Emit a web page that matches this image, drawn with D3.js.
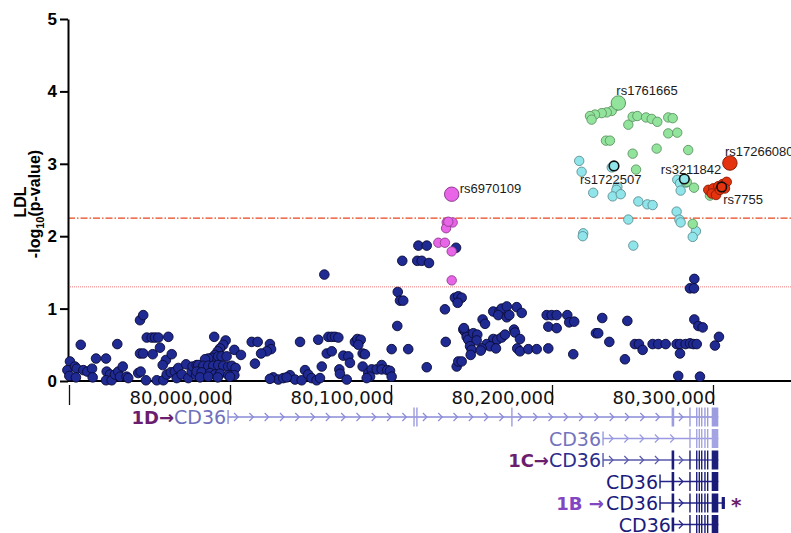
<!DOCTYPE html>
<html><head><meta charset="utf-8">
<script src="https://cdn.jsdelivr.net/npm/d3@7"></script>
<style>body{margin:0;background:#fff}svg{display:block}</style>
</head><body>
<svg id="c" width="791" height="533"></svg>
<script>
// ---------- DATA (position in kb on chr7, value = -log10 p) ----------
const xTicks = [79900, 80000, 80100, 80200, 80300];
const xTickLabels = ["", "80,000,000", "80,100,000", "80,200,000", "80,300,000"];
const yTicks = [0, 1, 2, 3, 4, 5];
const thresholds = [2.25, 1.3];

const navySnps = [
[79900.6,0.27],[79899.0,0.15],[79900.2,0.07],[79903.7,0.20],[79904.8,0.17],[79904.3,0.05],[79907.3,0.50],
[79908.9,0.15],[79911.4,0.13],[79914.3,0.17],[79914.7,0.05],[79916.8,0.31],[79923.0,0.31],[79923.4,0.13],
[79925.5,0.09],[79923.0,0.01],[79926.5,0.01],[79930.0,0.51],[79928.6,0.09],[79930.6,0.13],[79933.4,0.20],
[79931.7,0.06],[79935.8,0.06],[79936.8,0.04],[79944.1,0.84],[79946.1,0.91],[79943.0,0.11],[79944.5,0.13],
[79944.1,0.38],[79946.1,0.38],[79948.3,0.60],[79951.4,0.60],[79953.4,0.60],[79955.5,0.60],[79961.7,0.61],
[79956.5,0.46],[79952.0,0.37],[79947.8,0.01],[79954.5,0.01],[79958.6,0.01],[79960.2,0.29],[79958.2,0.22],
[79963.8,0.37],[79960.7,0.09],[79963.2,0.12],[79965.8,0.13],[79967.9,0.18],[79966.9,0.04],[79970.0,0.09],
[79972.7,0.23],[79974.1,0.04],[79976.2,0.13],[79976.8,0.20],[79979.3,0.22],[79978.9,0.08],
[79990.2,0.61],[79997.3,0.56],[79995.8,0.50],[79993.8,0.45],[79992.4,0.41],[79990.7,0.36],[79988.6,0.32],
[79986.5,0.31],[79984.5,0.30],[79992.7,0.34],[79994.8,0.34],[79997.9,0.34],[80002.7,0.43],[80006.8,0.36],
[79980.3,0.22],[79983.4,0.21],[79986.5,0.21],[79989.6,0.21],[79992.7,0.22],[79995.8,0.21],[79998.9,0.20],
[80001.1,0.21],[80003.5,0.18],[79979.3,0.13],[79982.4,0.12],[79987.6,0.11],[79990.7,0.09],[79993.8,0.10],
[79998.9,0.08],[80002.7,0.08],[79981.4,0.05],[79986.5,0.06],[79992.4,0.05],[80000.0,0.06],[80013.5,0.54],
[80017.2,0.54],[80024.8,0.51],[80025.5,0.44],[80022.8,0.41],[80019.3,0.38],[80015.5,0.24],[80026.9,0.05],
[80030.0,0.02],[80033.1,0.04],[80037.3,0.08],[80040.4,0.02],[80044.5,0.01],[80046.6,0.15],[80048.6,0.09],
[80050.7,0.04],[80053.8,0.01],[80055.9,0.04],[80043.5,0.54],[80054.8,0.57],[80057.0,0.20],[80060.1,0.38],
[80061.1,0.61],[80063.2,0.61],[80035.2,0.05],[80024.8,0.03],
[80065.2,0.61],[80067.3,0.60],[80063.2,0.41],[80070.4,0.35],[80073.5,0.34],[80074.5,0.25],[80067.9,0.16],
[80068.3,0.10],[80072.5,0.02],[80077.6,0.54],[80079.1,0.58],[80081.2,0.57],[80079.7,0.50],[80082.4,0.38],
[80083.8,0.37],[80082.4,0.20],[80085.9,0.11],[80088.0,0.16],[80091.1,0.16],[80094.2,0.22],[80094.2,0.16],
[80097.7,0.15],[80099.4,0.14],[80100.4,0.06],[80087.0,0.06],[80084.9,0.04],[80100.4,0.44],[80103.9,0.76],
[80110.7,0.44],[80122.2,0.19],[80104.2,1.23],[80105.6,1.11],[80107.6,1.11],[80107.0,1.66],[80116.3,1.66],
[80119.1,1.66],[80123.6,1.63],[80117.0,1.87],[80122.2,1.87],[80140.4,1.84],[80133.5,0.99],[80139.7,1.15],
[80141.8,1.17],[80143.9,1.15],[80141.4,1.08],[80134.0,0.54],[80144.9,0.71],[80146.0,0.68],[80147.0,0.61],
[80148.0,0.57],[80140.8,0.20],[80141.8,0.27],[80058.6,1.47],
[80143.9,0.27],[80163.5,0.96],[80167.3,0.96],[80168.7,1.00],[80171.9,1.03],[80178.1,1.02],[80181.2,0.94],
[80166.6,0.91],[80171.9,0.88],[80173.5,0.91],[80156.9,0.85],[80158.4,0.79],[80145.3,0.73],[80151.1,0.66],
[80153.6,0.64],[80153.2,0.56],[80163.5,0.58],[80166.0,0.57],[80168.7,0.60],[80176.4,0.71],[80177.0,0.67],
[80180.1,0.58],[80159.4,0.51],[80161.5,0.48],[80165.2,0.45],[80156.3,0.45],[80149.1,0.48],[80150.1,0.43],
[80149.5,0.36],[80155.7,0.42],[80178.4,0.45],[80180.1,0.41],[80185.3,0.44],[80190.5,0.44],[80197.7,0.45],
[80213.2,0.37],[80196.7,0.91],[80199.8,0.91],[80202.9,0.91],[80209.5,0.91],[80197.7,0.75],[80202.9,0.73],
[80210.7,0.81],[80213.8,0.82],[80227.3,0.66],[80228.7,0.66],[80170.8,0.64],
[80231.2,0.87],[80235.6,0.54],[80246.8,0.83],[80245.3,0.30],[80251.5,0.51],[80254.0,0.51],[80256.3,0.43],
[80262.5,0.51],[80266.0,0.51],[80270.6,0.51],[80277.4,0.51],[80279.5,0.51],[80279.5,0.38],[80283.0,0.51],
[80285.7,0.52],[80287.8,0.51],[80289.9,0.51],[80288.4,1.41],[80285.7,1.28],[80288.2,1.28],[80288.4,0.85],
[80290.9,0.76],[80293.6,0.74],[80278.4,0.07],[80291.9,0.06],[80301.2,0.49],[80303.7,0.61]
];

const cyanSnps = [
[80216.9,3.04],[80218.4,2.89],[80237.1,2.95],[80240.6,2.68],[80240.0,2.64],[80237.7,2.55],[80242.7,2.58],
[80225.6,2.60],[80253.6,2.48],[80259.2,2.44],[80262.5,2.43],[80277.8,2.78],[80279.5,2.73],[80279.9,2.63],
[80283.2,2.74],[80277.4,2.34],[80279.1,2.23],[80279.9,2.19],[80247.4,2.23],[80219.4,2.04],[80219.1,2.00],
[80250.5,1.87],[80289.4,2.07],[80287.4,1.99]
];

const greenSnps = [
[80239.7,3.80],[80237.1,3.73],[80234.0,3.71],[80230.9,3.70],[80226.7,3.68],[80223.6,3.66],[80224.6,3.61],
[80247.4,3.54],[80250.1,3.65],[80253.0,3.66],[80258.4,3.64],[80261.9,3.62],[80265.4,3.58],[80272.2,3.64],
[80275.0,3.63],[80272.2,3.42],[80277.8,3.43],[80233.5,3.32],[80236.0,3.32],[80265.0,3.21],[80284.6,3.19],
[80250.1,3.14],[80252.2,2.92],[80283.7,2.75],[80288.2,2.67],[80287.4,2.17],[80298.1,2.56]
];

const pinkSnps = [
[80134.6,2.19],[80138.3,2.19],[80134.2,2.11],[80135.6,2.20],[80129.4,1.91],[80133.5,1.91],[80137.7,1.79],
[80137.7,1.39]
];

const redSnps = [
[80297.1,2.64],[80300.2,2.66],[80303.3,2.69],[80306.0,2.72],[80308.5,2.75],[80299.2,2.59],
[80301.9,2.57],[80307.4,2.66],[80304.3,2.64],[80305.4,2.68]
];

const labelNames = ["rs6970109", "rs1761665", "rs17266080", "rs3211842", "rs1722507", "rs7755"];
const labelPos   = [80137.7, 80241.2, 80310.5, 80282.2, 80238.5, 80305.4];
const labelP     = [2.58, 3.84, 3.01, 2.79, 2.97, 2.68];
const labelGroup = ["pink", "green", "red", "cyan", "cyan", "red"];
const labelBig   = [true, true, true, false, false, false];

// gene track: CD36 transcripts (kb)
const txNames  = ["CD36", "CD36", "CD36", "CD36", "CD36", "CD36"];
const txPromoter = ["1D", "", "1C", "", "1B", ""];
const txStart  = [79998.8, 80231.7, 80231.7, 80267.1, 80267.1, 80275.1];
const txEnd    = [80303.3, 80303.3, 80303.3, 80303.3, 80307.4, 80303.3];
const sharedExons = [80285.7, 80289.9, 80291.5, 80293.0, 80295.0, 80296.7];
const txExtraExons = [
  [80114.3, 80116.1, 80175.1, 80275.1],
  [],
  [80275.1],
  [80275.1],
  [80275.1],
  []
];
const lastExon = [80299.2, 80303.3];
const extraBlock = [80305.4, 80307.4]; // 1B only

// ---------- DRAW ----------
const svg = d3.select("#c");
const W = 791;
const x = d3.scaleLinear().domain([79900, 80300]).range([69, 713]);
const y = d3.scaleLinear().domain([0, 5]).range([381, 19]);
const xEnd = x.invert(W);

// threshold lines
svg.append("line").attr("x1", 68).attr("x2", W).attr("y1", y(thresholds[0])).attr("y2", y(thresholds[0]))
  .attr("stroke", "#e8461e").attr("stroke-width", 1.2).attr("stroke-dasharray", "7,2,1.5,2");
svg.append("line").attr("x1", 68).attr("x2", W).attr("y1", y(thresholds[1])).attr("y2", y(thresholds[1]))
  .attr("stroke", "#f07a7a").attr("stroke-width", 1).attr("stroke-dasharray", "1,1");

// y axis
const gy = svg.append("g").attr("transform", "translate(68,0)")
  .call(d3.axisLeft(y).tickValues(yTicks).tickSize(8).tickSizeOuter(0).tickPadding(3).tickFormat(d3.format("d")));
gy.select(".domain").attr("stroke", "#000").attr("stroke-width", 2);
gy.selectAll(".tick line").attr("stroke", "#000").attr("stroke-width", 2);
gy.selectAll(".tick text").attr("font-family", "Liberation Sans, Arial, sans-serif")
  .attr("font-weight", "bold").attr("font-size", 17).attr("fill", "#000");

// y title
svg.append("text").attr("transform", "translate(25.5,202) rotate(-90)").attr("text-anchor", "middle")
  .attr("font-family", "Liberation Sans, Arial, sans-serif").attr("font-weight", "bold").attr("font-size", 16)
  .text("LDL");
const t2 = svg.append("text").attr("transform", "translate(40,204) rotate(-90)").attr("text-anchor", "middle")
  .attr("font-family", "Liberation Sans, Arial, sans-serif").attr("font-weight", "bold").attr("font-size", 16);
t2.append("tspan").text("-log");
t2.append("tspan").attr("font-size", 11).attr("dy", 4).text("10");
t2.append("tspan").attr("dy", -4).text("(p-value)");

// x axis baseline
const xFull = x.copy().domain([79900, xEnd]).range([69, W]);
const gxb = svg.append("g").attr("transform", "translate(0,381)")
  .call(d3.axisBottom(xFull).tickValues([]).tickSizeOuter(0));
gxb.select(".domain").attr("stroke", "#000").attr("stroke-width", 2.2).attr("d", `M68,0H${W}`);

// x ticks (below baseline)
const gx = svg.append("g").attr("transform", "translate(0,385)")
  .call(d3.axisBottom(x).tickValues(xTicks).tickSize(20).tickFormat((d, i) => xTickLabels[i]));
gx.select(".domain").remove();
gx.selectAll(".tick line").attr("stroke", "#111").attr("stroke-width", 1.3);
gx.selectAll(".tick text").attr("x", 2).attr("y", 19).attr("dy", 0).attr("text-anchor", "end")
  .attr("font-family", "DejaVu Sans, Verdana, sans-serif").attr("font-size", 18).attr("fill", "#111");

// points
const styles = {
  navy:  {fill: "#1f2a92", stroke: "#0b0b35"},
  cyan:  {fill: "#8fe5ea", stroke: "#5f8f93"},
  green: {fill: "#92e49c", stroke: "#5e9462"},
  pink:  {fill: "#e865e8", stroke: "#8e3c8e"},
  red:   {fill: "#e3330f", stroke: "#8a1c05"}
};
function drawGroup(data, key, r) {
  svg.append("g").selectAll("circle").data(data).join("circle")
    .attr("cx", d => x(d[0])).attr("cy", d => y(d[1])).attr("r", r)
    .attr("fill", styles[key].fill).attr("stroke", styles[key].stroke).attr("stroke-width", 0.9);
}
drawGroup(navySnps, "navy", 4.8);
drawGroup(cyanSnps, "cyan", 4.7);
drawGroup(greenSnps, "green", 4.7);
drawGroup(pinkSnps, "pink", 4.7);
drawGroup(redSnps, "red", 4.8);

// labelled SNPs
const labelOffsets = [[8, -1], [-2, -7.5], [-5, -7], [-23.5, -5.5], [-34, 18.5], [1.5, 17]];
labelNames.forEach((n, i) => {
  const st = styles[labelGroup[i]];
  svg.append("circle").attr("cx", x(labelPos[i])).attr("cy", y(labelP[i]))
    .attr("r", labelBig[i] ? 7.2 : 4.8)
    .attr("fill", st.fill)
    .attr("stroke", labelBig[i] ? st.stroke : "#111")
    .attr("stroke-width", labelBig[i] ? 1 : 1.6);
});
labelNames.forEach((n, i) => {
  svg.append("text").attr("x", x(labelPos[i]) + labelOffsets[i][0]).attr("y", y(labelP[i]) + labelOffsets[i][1])
    .attr("font-family", "Liberation Sans, Arial, sans-serif").attr("font-size", 13).attr("fill", "#1a1a1a")
    .text(n);
});

// gene track
const rowY = [417, 438.5, 460, 481.5, 503, 524.5];
const lineCol  = ["#8a8ad8", "#9a9ae0", "#5858ac", "#26268a", "#26268a", "#26268a"];
const exonCol  = ["#9c9ce0", "#a4a4e4", "#1d1d7c", "#1a1a78", "#1a1a78", "#1a1a78"];
const nameCol  = ["#6f6fbb", "#7474bc", "#2c2c8c", "#1c1c7c", "#1c1c7c", "#1c1c7c"];
const promCol  = ["#6b1d6e", "", "#6b1d6e", "", "#8246c2", ""];
const gt = svg.append("g");
txStart.forEach((s, i) => {
  const cy = rowY[i];
  const g = gt.append("g");
  g.append("line").attr("x1", x(s)).attr("x2", x(txEnd[i])).attr("y1", cy).attr("y2", cy)
    .attr("stroke", lineCol[i]).attr("stroke-width", 1.4);
  const exons = [s].concat(txExtraExons[i], sharedExons).sort((a, b) => a - b);
  const feats = exons.concat([lastExon[0]]);
  for (let k = 0; k < feats.length - 1; k++) {
    const a = x(feats[k]), b = x(feats[k + 1]);
    for (let cx = a + 9; cx <= b - 5; cx += 15.3) {
      g.append("path").attr("d", `M${cx - 3},${cy - 4}L${cx + 1},${cy}L${cx - 3},${cy + 4}`)
        .attr("fill", "none").attr("stroke", lineCol[i]).attr("stroke-width", 1.2);
    }
  }
  exons.forEach((e) => {
    const isStart = e === s;
    const w = (e === 80275.1) ? 2.6 : 1.4;
    const h = isStart ? 14 : 19;
    g.append("rect").attr("x", x(e) - w / 2).attr("y", cy - h / 2).attr("width", w).attr("height", h)
      .attr("fill", (isStart && i < 3) ? lineCol[i] : exonCol[i]);
  });
  g.append("rect").attr("x", x(lastExon[0])).attr("y", cy - 9.5)
    .attr("width", x(lastExon[1]) - x(lastExon[0])).attr("height", 19).attr("fill", exonCol[i]);
  if (txPromoter[i] === "1B") {
    g.append("rect").attr("x", x(extraBlock[0])).attr("y", cy - 6)
      .attr("width", x(extraBlock[1]) - x(extraBlock[0])).attr("height", 12).attr("fill", exonCol[i]);
    g.append("text").attr("x", x(extraBlock[1]) + 6).attr("y", cy + 9)
      .attr("font-family", "DejaVu Sans, Verdana, sans-serif").attr("font-size", 20).attr("font-weight", "bold")
      .attr("fill", "#6b1d6e").text("*");
  }
  const nameEnd = x(s) - 2;
  const nt = g.append("text").attr("x", nameEnd).attr("y", cy + 7).attr("text-anchor", "end")
    .attr("font-family", "DejaVu Sans, Verdana, sans-serif").attr("font-size", 19).attr("fill", nameCol[i])
    .text(txNames[i]);
  if (txPromoter[i]) {
    const nw = nt.node().getComputedTextLength();
    const label = txPromoter[i] === "1B" ? "1B \u2192 " : txPromoter[i] + "\u2192";
    g.append("text").attr("x", nameEnd - nw - (txPromoter[i] === "1B" ? 2 : 0)).attr("y", cy + 7).attr("text-anchor", "end")
      .attr("font-family", "DejaVu Sans, Verdana, sans-serif").attr("font-size", 18).attr("font-weight", "bold")
      .attr("fill", promCol[i]).text(label);
  }
});
</script>
</body></html>
